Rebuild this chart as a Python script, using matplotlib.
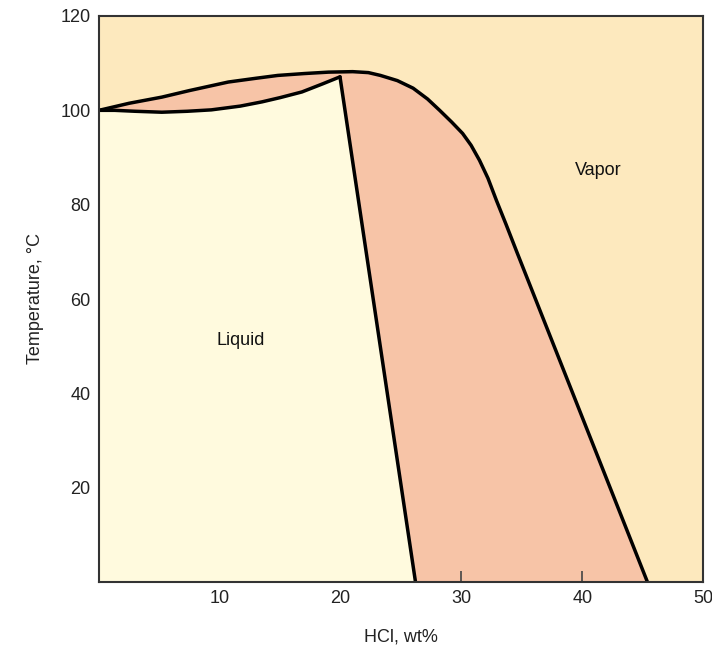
import matplotlib
matplotlib.use("Agg")
import matplotlib.pyplot as plt

# Dew (vapor) curve points
dew_x = [0.0, 2.5, 5.2, 7.5, 10.7, 13.0, 14.8, 17.0, 19.0, 21.0, 22.3, 23.3, 24.7, 26.0, 27.2,
         28.2, 29.2, 30.1, 30.8, 31.5, 32.2, 32.9, 33.7, 34.6, 45.4]
dew_y = [100.0, 101.5, 102.8, 104.2, 106.0, 106.8, 107.4, 107.8, 108.1, 108.2, 108.0, 107.4, 106.3,
         104.7, 102.4, 100.0, 97.5, 95.1, 92.6, 89.4, 85.6, 80.9, 75.8, 69.9, 0.0]

# Bubble (liquid) curve points
bub_x = [0.0, 1.3, 3.0, 5.2, 7.3, 9.3, 11.7, 13.5, 15.0, 16.8, 18.5, 19.95]
bub_y = [100.0, 100.0, 99.8, 99.6, 99.8, 100.1, 100.9, 101.8, 102.7, 103.9, 105.6, 107.1]

# Solid-liquid boundary line
line_x = [19.95, 26.2]
line_y = [107.1, 0.0]

xticks = [10, 20, 30, 40, 50]
yticks = [20, 40, 60, 80, 100, 120]

plt.rcParams['font.family'] = ['Liberation Sans', 'DejaVu Sans']

fig = plt.figure(figsize=(7.12, 6.49), dpi=100)
ax = fig.add_axes([99/712, 67/649, 604/712, 566/649])

vapor_c = '#FDE9BE'
liquid_c = '#FFFADE'
two_c = '#F7C4A7'
ax.set_facecolor(vapor_c)

# Two-phase region
tp_x = dew_x + [line_x[1]] + [line_x[0]] + bub_x[::-1]
tp_y = dew_y + [line_y[1]] + [line_y[0]] + bub_y[::-1]
ax.fill(tp_x, tp_y, color=two_c, lw=0, zorder=1)

# Liquid region
liq_x = [0.0] + bub_x + [line_x[1]]
liq_y = [0.0] + bub_y + [line_y[1]]
ax.fill(liq_x, liq_y, color=liquid_c, lw=0, zorder=2)

lw = 2.5
ax.plot(dew_x, dew_y, color='black', lw=lw, solid_joinstyle='round', solid_capstyle='round', zorder=3)
ax.plot(bub_x, bub_y, color='black', lw=lw, solid_joinstyle='round', solid_capstyle='round', zorder=3)
ax.plot(line_x, line_y, color='black', lw=lw, solid_capstyle='round', zorder=3)

ax.set_xlim(0, 50)
ax.set_ylim(0, 120)
ax.set_xticks(xticks)
ax.set_yticks(yticks)
ax.tick_params(direction='in', length=8, width=1.2, color='#444444',
               labelsize=13, labelcolor='#222222', pad=6)
for s in ax.spines.values():
    s.set_color('#333333')
    s.set_linewidth(1.5)
    s.set_zorder(4)

ax.set_xlabel('HCl, wt%', fontsize=13, color='#222222', labelpad=15)
ax.set_ylabel('Temperature, °C', fontsize=13, color='#222222', labelpad=12)

ax.text(11.7, 51.3, 'Liquid', fontsize=13, color='#111111', ha='center', va='center', zorder=5)
ax.text(41.3, 87.3, 'Vapor', fontsize=13, color='#111111', ha='center', va='center', zorder=5)

fig.savefig('out.png', dpi=100)
